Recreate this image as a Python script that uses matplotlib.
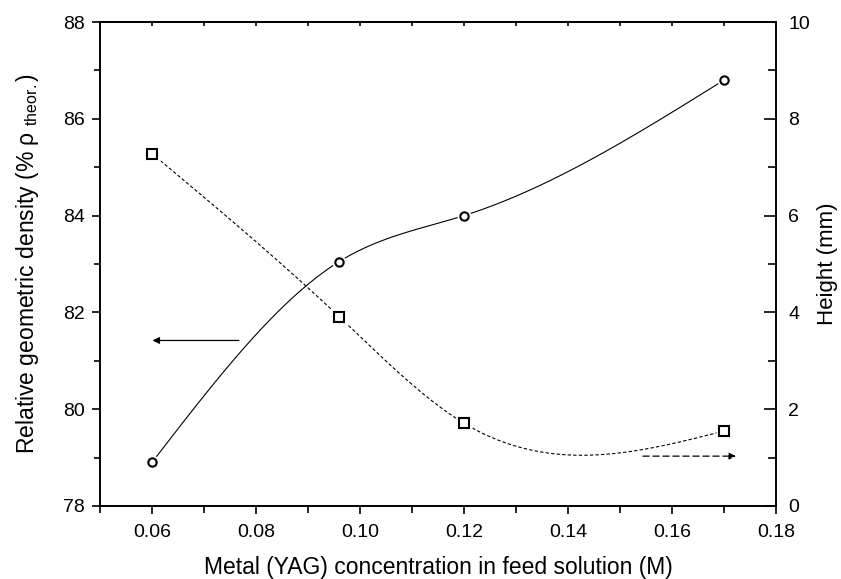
import numpy as np
import matplotlib.pyplot as plt
from matplotlib.ticker import MultipleLocator

plt.rcParams['font.family'] = ['Liberation Sans', 'DejaVu Sans']
plt.rcParams['mathtext.fontset'] = 'custom'
plt.rcParams['mathtext.rm'] = 'Liberation Sans'
plt.rcParams['mathtext.it'] = 'Liberation Sans:italic'

conc = [0.06, 0.096, 0.12, 0.17]
density = [78.9, 83.05, 84.0, 86.8]
height = [7.28, 3.91, 1.71, 1.55]
xtick_vals = [0.06, 0.08, 0.10, 0.12, 0.14, 0.16, 0.18]
xtick_labels = ['0.06', '0.08', '0.10', '0.12', '0.14', '0.16', '0.18']


def natural_spline(x, y, n=300):
    # natural cubic spline through the points, like Origin's spline connection
    x = np.asarray(x, float)
    y = np.asarray(y, float)
    k = len(x)
    h = np.diff(x)
    A = np.zeros((k, k))
    b = np.zeros(k)
    A[0, 0] = A[-1, -1] = 1
    for i in range(1, k - 1):
        A[i, i - 1] = h[i - 1]
        A[i, i] = 2 * (h[i - 1] + h[i])
        A[i, i + 1] = h[i]
        b[i] = 6 * ((y[i + 1] - y[i]) / h[i] - (y[i] - y[i - 1]) / h[i - 1])
    m = np.linalg.solve(A, b)
    xs = np.linspace(x[0], x[-1], n)
    j = np.clip(np.searchsorted(x, xs) - 1, 0, k - 2)
    t = xs - x[j]
    hj = h[j]
    ys = (m[j] * (x[j + 1] - xs) ** 3 / (6 * hj) + m[j + 1] * t ** 3 / (6 * hj)
          + (y[j] / hj - m[j] * hj / 6) * (x[j + 1] - xs)
          + (y[j + 1] / hj - m[j + 1] * hj / 6) * t)
    return xs, ys


fig = plt.figure(figsize=(8.41, 5.79), dpi=100)
ax = fig.add_axes([0.1189, 0.1261, 0.8038, 0.8359])
ax2 = ax.twinx()

xs, ys = natural_spline(conc, density)
ax.plot(xs, ys, color='black', lw=0.8, zorder=2)
ax.plot(conc, density, 'o', ms=10, mfc='white', mec='none', zorder=3)
ax.plot(conc, density, 'o', ms=6, mfc='white', mec='black', mew=1.5, zorder=4)

xs2, ys2 = natural_spline(conc, height)
ax2.plot(xs2, ys2, color='black', lw=0.8, ls=(0, (3, 2)), zorder=2)
ax2.plot(conc, height, 's', ms=11, mfc='white', mec='none', zorder=3)
ax2.plot(conc, height, 's', ms=7, mfc='white', mec='black', mew=1.5, zorder=4)

ax.annotate('', xy=(0.0601, 81.42), xytext=(0.0767, 81.42),
            arrowprops=dict(arrowstyle='-|>', color='black', lw=0.9,
                            mutation_scale=10, shrinkA=0, shrinkB=0))
ax2.annotate('', xy=(0.1723, 1.03), xytext=(0.1544, 1.03),
             arrowprops=dict(arrowstyle='-|>', color='black', lw=0.9, ls=(0, (5, 3)),
                             mutation_scale=10, shrinkA=0, shrinkB=0))

ax.set_xlim(0.05, 0.18)
ax.set_ylim(78, 88)
ax2.set_ylim(0, 10)

ax.set_xticks(xtick_vals)
ax.set_xticklabels(xtick_labels)
ax.xaxis.set_minor_locator(MultipleLocator(0.01))
ax.yaxis.set_major_locator(MultipleLocator(2))
ax.yaxis.set_minor_locator(MultipleLocator(1))
ax2.yaxis.set_major_locator(MultipleLocator(2))
ax2.yaxis.set_minor_locator(MultipleLocator(1))

ax.tick_params(axis='x', which='both', direction='out', top=False, labelsize=14, width=1.2, pad=7)
ax.tick_params(axis='x', which='major', length=6)
ax.tick_params(axis='x', which='minor', length=5)
ax.tick_params(axis='y', which='both', direction='out', labelsize=14, width=1.2, pad=5)
ax.tick_params(axis='y', which='major', length=6)
ax.tick_params(axis='y', which='minor', length=4)
ax2.tick_params(axis='y', which='both', direction='in', labelsize=14, width=1.2, pad=9)
ax2.tick_params(axis='y', which='major', length=9)
ax2.tick_params(axis='y', which='minor', length=6)

# top: small ticks pointing inward, no labels
top = ax.secondary_xaxis('top')
top.set_xticks(np.arange(0.05, 0.185, 0.01))
top.tick_params(axis='x', direction='in', length=3, width=1.2, labeltop=False)

for a in (ax, ax2):
    for s in a.spines.values():
        s.set_linewidth(1.2)
top.spines['top'].set_linewidth(1.2)

ax.set_xlabel('Metal (YAG) concentration in feed solution (M)', fontsize=16.5, labelpad=11)
ax.set_ylabel(r'Relative geometric density (% ρ $_{\rm theor.}$)', fontsize=16.5, labelpad=16)
ax2.set_ylabel('Height (mm)', fontsize=16, labelpad=5)

fig.savefig('out.png', dpi=100)
